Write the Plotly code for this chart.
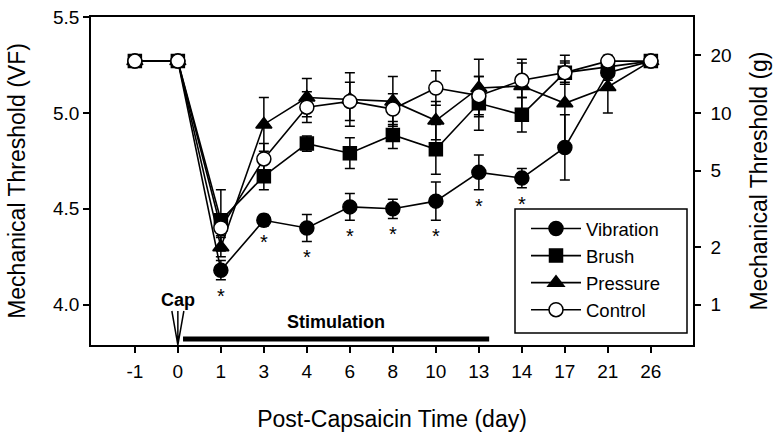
import plotly.graph_objects as go

# ---- data ----
days = ["-1", "0", "1", "3", "4", "6", "8", "10", "13", "14", "17", "21", "26"]
pos = list(range(len(days)))

vibration = [5.27, 5.27, 4.18, 4.44, 4.40, 4.51, 4.50, 4.54, 4.69, 4.66, 4.82, 5.21, 5.27]
vibration_err = [0, 0, 0.05, 0.03, 0.07, 0.07, 0.05, 0.10, 0.09, 0.05, 0.17, 0.04, 0]

brush = [5.27, 5.27, 4.44, 4.67, 4.84, 4.79, 4.885, 4.81, 5.05, 4.99, 5.21, 5.24, 5.27]
brush_err = [0, 0, 0.16, 0.07, 0.04, 0.08, 0.07, 0.13, 0.14, 0.09, 0.05, 0.04, 0]

pressure = [5.27, 5.27, 4.30, 4.94, 5.08, 5.07, 5.06, 4.96, 5.13, 5.14, 5.05, 5.135, 5.27]
pressure_err = [0, 0, 0.05, 0.14, 0.10, 0.14, 0.13, 0.10, 0.15, 0.14, 0.25, 0.135, 0]

control = [5.27, 5.27, 4.40, 4.76, 5.03, 5.06, 5.02, 5.13, 5.09, 5.17, 5.21, 5.27, 5.27]
control_err = [0, 0, 0.04, 0.08, 0.08, 0.10, 0.08, 0.09, 0.10, 0.09, 0.06, 0.03, 0]

sig_days = ["1", "3", "4", "6", "8", "10", "13", "14"]

y_ticks = [4.0, 4.5, 5.0, 5.5]
g_ticks = [1, 2, 5, 10, 20]
y_range = [3.79, 5.5]

FONT = "Liberation Sans, Arial, sans-serif"

fig = go.Figure()

series = [
    ("Vibration", vibration, vibration_err, "circle", "black"),
    ("Brush", brush, brush_err, "square", "black"),
    ("Pressure", pressure, pressure_err, "triangle-up", "black"),
    ("Control", control, control_err, "circle", "white"),
]
sizes = {"circle": 14, "square": 13, "triangle-up": 14}
for name, vals, err, sym, fill in series:
    fig.add_trace(go.Scatter(
        x=pos, y=vals, name=name, mode="lines+markers",
        line=dict(color="black", width=1.6),
        marker=dict(symbol=sym, size=sizes[sym], color=fill,
                    line=dict(color="black", width=1.5)),
        error_y=dict(type="data", array=err, visible=True,
                     color="black", thickness=1.5, width=5),
    ))

# significance asterisks under Vibration
for d in sig_days:
    i = days.index(d)
    fig.add_annotation(x=i, y=vibration[i] - vibration_err[i], text="*",
                       showarrow=False, yanchor="top", yshift=-3,
                       font=dict(family=FONT, size=20, color="black"))

# Cap arrow (open V) at day 0
cap_i = days.index("0")
fig.add_shape(type="path", xref="x", yref="y",
              xsizemode="pixel", ysizemode="pixel",
              xanchor=cap_i, yanchor=y_range[0],
              path="M-6,34 L0,0 L6,34 M0,0 L0,34",
              line=dict(color="black", width=1.5))
fig.add_annotation(x=cap_i, y=y_range[0], yshift=33, text="<b>Cap</b>",
                   showarrow=False, yanchor="bottom",
                   font=dict(family=FONT, size=18, color="black"))

# Stimulation bar (day 0 to just past day 13)
stim_start = cap_i + 0.12
stim_end = days.index("13") + 0.24
fig.add_shape(type="line", xref="x", yref="y",
              x0=stim_start, x1=stim_end,
              ysizemode="pixel", yanchor=y_range[0], y0=6, y1=6,
              line=dict(color="black", width=5))
fig.add_annotation(x=(stim_start + stim_end) / 2, y=y_range[0], yshift=11,
                   text="<b>Stimulation</b>", showarrow=False, yanchor="bottom",
                   font=dict(family=FONT, size=18, color="black"))

# legend frame
W, H = 783, 442
ML, MR, MT, MB = 91, 90, 17, 97
pw, ph = W - ML - MR, H - MT - MB
def px_x(px):
    return (px - ML) / pw
def px_y(py):
    return (H - MB - py) / ph
fig.add_shape(type="rect", xref="paper", yref="paper",
              x0=px_x(515), x1=px_x(687), y0=px_y(333), y1=px_y(209),
              fillcolor="white", line=dict(color="black", width=1.5), layer="above")

axis_common = dict(showline=True, linecolor="black", linewidth=1.5,
                   ticks="outside", ticklen=6, tickwidth=1.5, tickcolor="black",
                   showgrid=False, zeroline=False, automargin=False)

fig.update_layout(
    width=W, height=H,
    margin=dict(l=ML, r=MR, t=MT, b=MB),
    paper_bgcolor="white", plot_bgcolor="white",
    font=dict(family=FONT, size=19, color="black"),
    showlegend=True,
    legend=dict(x=px_x(526), y=px_y(210), xanchor="left", yanchor="top",
                bgcolor="rgba(0,0,0,0)", borderwidth=0,
                font=dict(family=FONT, size=18.5, color="black"),
                itemwidth=50, tracegroupgap=0),
    xaxis=dict(range=[-1.02, 12.98], tickmode="array", tickvals=pos, ticktext=days,
               mirror=True, ticklabelstandoff=2,
               title=dict(text="Post-Capsaicin Time (day)", font=dict(size=23), standoff=30),
               **axis_common),
    yaxis=dict(range=y_range, tickmode="array", tickvals=y_ticks,
               ticktext=[f"{v:.1f}" for v in y_ticks],
               title=dict(text="Mechanical Threshold (VF)", font=dict(size=23), standoff=21),
               **axis_common),
    yaxis2=dict(overlaying="y", side="right", type="log",
                range=[y_range[0] - 4, y_range[1] - 4],
                tickmode="array", tickvals=g_ticks, ticktext=[str(v) for v in g_ticks],
                ticklabelstandoff=6,
                title=dict(text="Mechanical Threshold (g)", font=dict(size=23), standoff=20),
                **axis_common),
)

fig.add_trace(go.Scatter(x=[None], y=[None], yaxis="y2", showlegend=False,
                         hoverinfo="skip"))

fig.write_html("out.html", config={"displayModeBar": False},
               post_script="document.body.style.margin='0';")
